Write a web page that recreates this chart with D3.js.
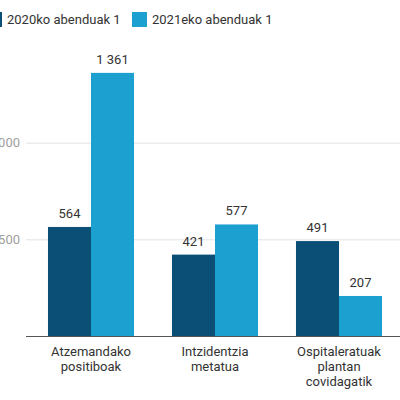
<!DOCTYPE html>
<html>
<head>
<meta charset="utf-8">
<script src="https://cdn.jsdelivr.net/npm/d3@7.9.0/dist/d3.min.js"></script>
<style>
  body { margin: 0; background: #fff; }
  svg { display: block; font-family: Roboto, "Noto Sans", sans-serif; }
</style>
</head>
<body>
<svg id="chart" width="400" height="400"></svg>
<script>
// Data
const categories = [
  ["Atzemandako", "positiboak"],
  ["Intzidentzia", "metatua"],
  ["Ospitaleratuak", "plantan", "covidagatik"]
];
const seriesNames = ["2020ko abenduak 1", "2021eko abenduak 1"];
const values2020 = [564, 421, 491];
const values2021 = [1361, 577, 207];
const yTicks = [500, 1000];
const colors = ["#0b4f77", "#1ca0d0"];

const svg = d3.select("#chart");
const baseY = 336;
const fontSize = 13;

// number format with space as thousands separator
const fmt = d3.formatLocale({ decimal: ",", thousands: " ", grouping: [3], currency: ["", ""] }).format(",d");

const y = d3.scaleLinear().domain([0, 1500]).range([baseY, 46]);

const x = d3.scaleBand()
  .domain(d3.range(categories.length))
  .range([29, 401])
  .paddingInner(0.306)
  .paddingOuter(0.153);

const xInner = d3.scaleBand()
  .domain(d3.range(seriesNames.length))
  .range([0, x.bandwidth()]);

// gridlines + tick labels (the left edge is cropped in the reference)
const grid = svg.append("g");
grid.selectAll("line")
  .data(yTicks)
  .join("line")
  .attr("x1", 26)
  .attr("x2", 400)
  .attr("y1", (d) => y(d) + 0.5)
  .attr("y2", (d) => y(d) + 0.5)
  .attr("stroke", "#e2e2e2")
  .attr("stroke-width", 1);

grid.selectAll("text")
  .data(yTicks)
  .join("text")
  .attr("x", 20)
  .attr("y", (d) => y(d))
  .attr("dy", "0.35em")
  .attr("text-anchor", "end")
  .attr("fill", "#a0a0a0")
  .attr("font-size", fontSize)
  .text((d) => fmt(d));

// bars
const rows = categories.map((c, i) => [values2020[i], values2021[i]]);

const groups = svg.append("g")
  .selectAll("g")
  .data(rows)
  .join("g")
  .attr("transform", (d, i) => `translate(${x(i)},0)`);

groups.selectAll("rect")
  .data((d) => d)
  .join("rect")
  .attr("x", (d, j) => xInner(j))
  .attr("y", (d) => y(d))
  .attr("width", xInner.bandwidth())
  .attr("height", (d) => baseY - y(d))
  .attr("fill", (d, j) => colors[j]);

groups.selectAll("text")
  .data((d) => d)
  .join("text")
  .attr("x", (d, j) => xInner(j) + xInner.bandwidth() / 2)
  .attr("y", (d) => y(d) - 9)
  .attr("text-anchor", "middle")
  .attr("fill", "#333")
  .attr("font-size", fontSize)
  .text((d) => fmt(d));

// baseline
svg.append("line")
  .attr("x1", 26)
  .attr("x2", 400)
  .attr("y1", baseY + 0.5)
  .attr("y2", baseY + 0.5)
  .attr("stroke", "#555")
  .attr("stroke-width", 1);

// category labels
const catLabels = svg.append("g")
  .selectAll("text")
  .data(categories)
  .join("text")
  .attr("x", (d, i) => x(i) + x.bandwidth() / 2)
  .attr("y", 356)
  .attr("text-anchor", "middle")
  .attr("fill", "#333")
  .attr("font-size", fontSize);

catLabels.selectAll("tspan")
  .data((d) => d)
  .join("tspan")
  .attr("x", function () { return this.parentNode.getAttribute("x"); })
  .attr("dy", (d, k) => (k === 0 ? 0 : 15))
  .text((d) => d);

// legend
const legendX = [-13, 132];
const legend = svg.append("g")
  .selectAll("g")
  .data(seriesNames)
  .join("g")
  .attr("transform", (d, i) => `translate(${legendX[i]},12)`);

legend.append("rect")
  .attr("width", 15)
  .attr("height", 15)
  .attr("fill", (d, i) => colors[i]);

legend.append("text")
  .attr("x", 20)
  .attr("y", 7.5)
  .attr("dy", "0.35em")
  .attr("fill", "#333")
  .attr("font-size", fontSize)
  .text((d) => d);
</script>
</body>
</html>
